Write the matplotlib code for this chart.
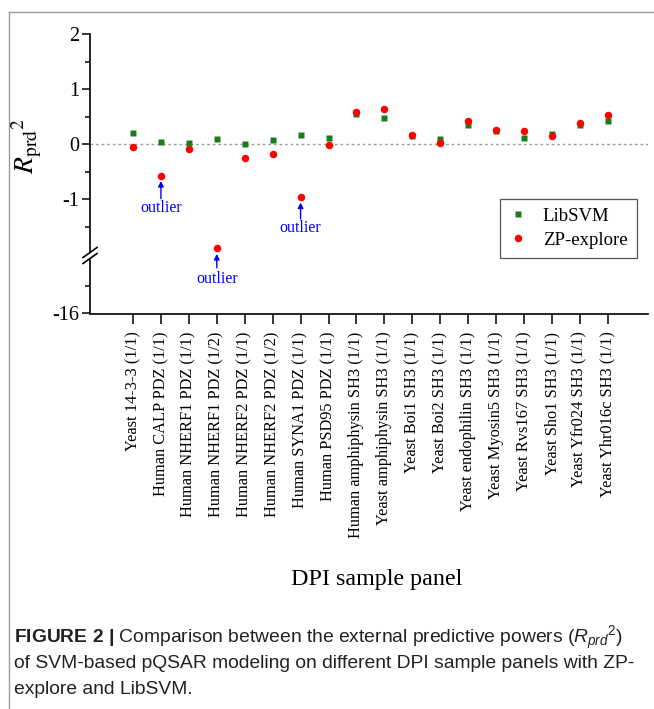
import numpy as np
import matplotlib
matplotlib.use("Agg")
import matplotlib.pyplot as plt
from matplotlib.lines import Line2D
from matplotlib.patches import Rectangle

plt.rcParams['font.family'] = ['Liberation Serif', 'DejaVu Serif']
plt.rcParams['axes.unicode_minus'] = False
plt.rcParams['mathtext.fontset'] = 'custom'
plt.rcParams['mathtext.rm'] = 'Liberation Sans'
plt.rcParams['mathtext.it'] = 'Liberation Sans:italic'
plt.rcParams['mathtext.bf'] = 'Liberation Sans:bold'

categories = [
    "Yeast 14-3-3 (1/1)", "Human CALP PDZ (1/1)", "Human NHERF1 PDZ (1/1)",
    "Human NHERF1 PDZ (1/2)", "Human NHERF2 PDZ (1/1)", "Human NHERF2 PDZ (1/2)",
    "Human SYNA1 PDZ (1/1)", "Human PSD95 PDZ (1/1)", "Human amphiphysin SH3 (1/1)",
    "Yeast amphiphysin SH3 (1/1)", "Yeast Boi1 SH3 (1/1)", "Yeast Boi2 SH3 (1/1)",
    "Yeast endophilin SH3 (1/1)", "Yeast Myosin5 SH3 (1/1)", "Yeast Rvs167 SH3 (1/1)",
    "Yeast Sho1 SH3 (1/1)", "Yeast Yfr024 SH3 (1/1)", "Yeast Yhr016c SH3 (1/1)",
]
libsvm = [0.20, 0.04, 0.02, 0.10, 0.00, 0.08, 0.18, 0.11, 0.56, 0.48,
          0.15, 0.10, 0.36, 0.25, 0.11, 0.19, 0.35, 0.43]
zp_explore = [-0.05, -0.57, -0.08, -1.88, -0.24, -0.18, -0.96, -0.01, 0.59, 0.64,
              0.18, 0.03, 0.42, 0.27, 0.25, 0.16, 0.39, 0.53]
outlier_idx = [1, 3, 6]
yticks_major = [-16, -1, 0, 1, 2]
yticks_minor = [-15.5, -1.5, -0.5, 0.5, 1.5]

# broken y scale: the range between -14.93 and -2 is collapsed
def fwd(y):
    y = np.asarray(y, float)
    return np.where(y >= -2, y,
                    np.where(y <= -14.93, y + 12.927, -2 + (y + 2) * (0.003 / 12.93)))

def inv(d):
    d = np.asarray(d, float)
    return np.where(d >= -2, d,
                    np.where(d <= -2.003, d - 12.927, -2 + (d + 2) * (12.93 / 0.003)))

W, H = 654, 709
fig = plt.figure(figsize=(W / 100, H / 100), dpi=100)
ax = fig.add_axes([90 / W, 1 - 313.5 / H, 558 / W, 279 / H])
ax.set_yscale('function', functions=(fwd, inv))

x = np.arange(len(categories))
ax.axhline(0, color='#a0a0a0', lw=1.0, ls=(0, (2, 2)), zorder=1)
ax.plot(x, libsvm, ls='none', marker='s', ms=4.6, color='#1d7a1d', mec='none',
        label='LibSVM', zorder=3)
ax.plot(x, zp_explore, ls='none', marker='o', ms=5.4, color='#ff0000', mec='none',
        label='ZP-explore', zorder=4)

ax.set_xlim(-1.54, 18.44)
ax.set_ylim(-16, 2)
ax.set_xticks(x)
ax.set_xticklabels(categories, rotation=90, fontsize=11.8, va='top', ha='center')
ax.set_yticks(yticks_major)
ax.set_yticklabels([str(t) for t in yticks_major], fontsize=14.5)
ax.set_yticks(yticks_minor, minor=True)
ax.tick_params(axis='both', which='major', direction='out', length=6, width=1.1, pad=2)
ax.tick_params(axis='x', which='major', length=7, pad=6)
ax.tick_params(axis='y', which='minor', direction='out', length=3.6, width=1.1)
ax.tick_params(axis='x', which='minor', bottom=False)
for s in ['top', 'right']:
    ax.spines[s].set_visible(False)
for s in ['left', 'bottom']:
    ax.spines[s].set_linewidth(1.2)

# outlier annotations (head, tail, text positions)
heads = [-0.664, -1.99, -1.055]
tails = [-0.985, -15.17, -1.355]
texts = [-1.149, -15.37, -1.518]
for i, hy, ty, tt in zip(outlier_idx, heads, tails, texts):
    ax.annotate('', xy=(x[i], hy), xytext=(x[i], ty),
                arrowprops=dict(arrowstyle='-|>', color='#0000ff', lw=1.0,
                                mutation_scale=8, shrinkA=0, shrinkB=0))
    ax.text(x[i], tt, 'outlier', color='#0000ff', fontsize=11.5,
            ha='center', va='center')

leg = ax.legend(loc='upper right', bbox_to_anchor=(0.980, 0.412), borderaxespad=0,
                fontsize=13.5, frameon=True, fancybox=False, framealpha=1,
                edgecolor='#555555', handlelength=1.0, handletextpad=0.8,
                borderpad=0.5, labelspacing=0.35)
leg.get_frame().set_linewidth(0.9)

# axis break marks on the left spine
tf = fig.transFigure
def px(xp, yp):
    return xp / W, 1 - yp / H
fig.add_artist(Rectangle(px(86, 258), 8 / W, 6 / H, transform=tf,
                         color='white', zorder=10))
for yc in (252.5, 258.5):
    x0, y0 = px(83, yc + 5)
    x1, y1 = px(97, yc - 5)
    fig.add_artist(Line2D([x0, x1], [y0, y1], transform=tf, color='black',
                          lw=1.2, zorder=11))

# y label
fig.text(27 / W, 1 - 146 / H, r'$R_{\rm prd}{}^{2}$', rotation=90, fontsize=20,
         ha='center', va='center', math_fontfamily='stix')
# x label
fig.text(377 / W, 1 - 580 / H, 'DPI sample panel', fontsize=17.3,
         ha='center', va='center')

# caption
cap_font = ['Liberation Sans', 'DejaVu Sans']
cap_size = 13.9
fig.text(14 / W, 1 - 638 / H,
         r'$\mathbf{FIGURE\ 2\ |}$ Comparison between the external predictive powers ($R_{prd}{}^{2}$)',
         fontsize=cap_size, family=cap_font, ha='left', va='center', color='#222222')
fig.text(14 / W, 1 - 664 / H,
         'of SVM-based pQSAR modeling on different DPI sample panels with ZP-',
         fontsize=cap_size, family=cap_font, ha='left', va='center', color='#222222')
fig.text(14 / W, 1 - 690 / H, 'explore and LibSVM.',
         fontsize=cap_size, family=cap_font, ha='left', va='center', color='#222222')

# page frame
fig.add_artist(Line2D([9 / W, 9 / W], [0, 1 - 12 / H], transform=tf, color='#9a9a9a', lw=1.0))
fig.add_artist(Line2D([9 / W, 1], [1 - 12 / H, 1 - 12 / H], transform=tf, color='#9a9a9a', lw=1.0))

fig.savefig('out.png', dpi=100)
